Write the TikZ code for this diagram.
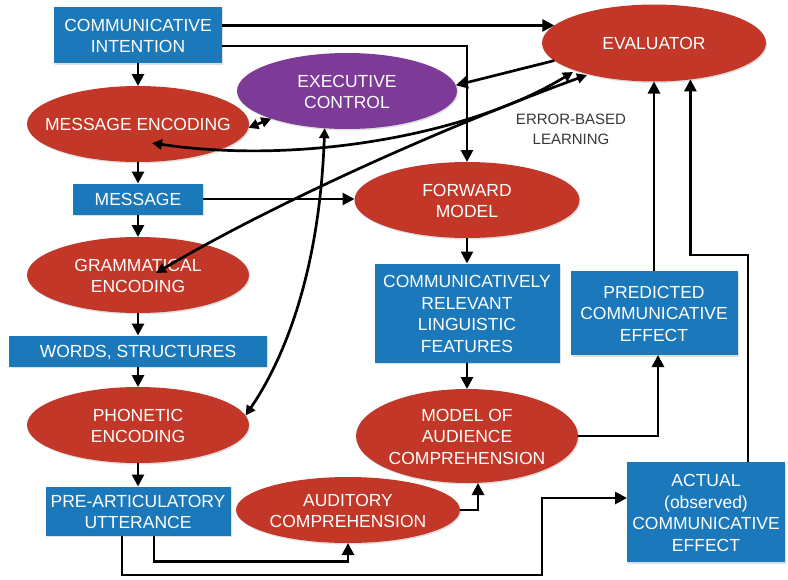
\documentclass[tikz,border=0pt]{standalone}
\usepackage{fontspec}
\setmainfont{Liberation Sans}
\usetikzlibrary{arrows.meta,shapes.geometric,calc,shadows}
\definecolor{boxblue}{RGB}{27,120,186}
\definecolor{ovred}{RGB}{194,55,39}
\definecolor{ovpurple}{RGB}{125,58,150}
\definecolor{lbltext}{RGB}{55,55,55}
\newcommand{\nlbl}[1]{\makebox[0pt][c]{\raisebox{-2.5pt}[\height][\depth]{\begin{tabular}{@{}c@{}}#1\end{tabular}}}}
\tikzset{
  base/.style={inner sep=0pt, outer sep=0pt, text=white, font=\fontsize{17.5}{21.5}\selectfont,
    drop shadow={opacity=0.25, shadow xshift=1pt, shadow yshift=-1.5pt}},
  blbox/.style={base, rectangle, fill=boxblue},
  rdoval/.style={base, ellipse, fill=ovred},
  ppoval/.style={base, ellipse, fill=ovpurple},
  arr/.style={line width=2.7pt, -{Triangle[length=12pt,width=12pt]}},
  dbl/.style={line width=2.7pt, {Triangle[length=10pt,width=10pt]}-{Triangle[length=10pt,width=10pt]}},
  notetext/.style={inner sep=0pt, text=lbltext, font=\fontsize{15}{19.5}\selectfont}
}
\begin{document}
\begin{tikzpicture}[x=1pt,y=-1pt]
\useasboundingbox (0,0) rectangle (788,579);
% nodes
\node[blbox, minimum width=168pt, minimum height=56pt] (ci) at (138,35) {\nlbl{COMMUNICATIVE\\INTENTION}};
\node[ppoval, minimum width=220pt, minimum height=76pt] (ec) at (347,91) {\nlbl{EXECUTIVE\\CONTROL}};
\node[rdoval, minimum width=222pt, minimum height=76pt] (me) at (138,124) {\nlbl{MESSAGE ENCODING}};
\node[rdoval, minimum width=224pt, minimum height=77pt] (ev) at (654,43) {\nlbl{EVALUATOR}};
\node[blbox, minimum width=130pt, minimum height=31pt] (msg) at (138,199) {\nlbl{MESSAGE}};
\node[rdoval, minimum width=225pt, minimum height=76pt] (fm) at (467,200) {\nlbl{FORWARD\\MODEL}};
\node[rdoval, minimum width=222pt, minimum height=76pt] (ge) at (138,275) {\nlbl{GRAMMATICAL\\ENCODING}};
\node[blbox, minimum width=258pt, minimum height=31pt] (ws) at (138,351) {\nlbl{WORDS, STRUCTURES}};
\node[blbox, minimum width=185pt, minimum height=99pt] (crlf) at (467,313) {\nlbl{COMMUNICATIVELY\\RELEVANT\\LINGUISTIC\\FEATURES}};
\node[blbox, minimum width=167pt, minimum height=84pt] (pce) at (654,313) {\nlbl{PREDICTED\\COMMUNICATIVE\\EFFECT}};
\node[rdoval, minimum width=222pt, minimum height=76pt] (pe) at (138,425) {\nlbl{PHONETIC\\ENCODING}};
\node[rdoval, minimum width=224pt, minimum height=66pt] (ac) at (348,510) {\nlbl{AUDITORY\\COMPREHENSION}};
\node[rdoval, minimum width=222pt, minimum height=94pt] (mac) at (467,436) {\nlbl{MODEL OF\\AUDIENCE\\COMPREHENSION}};
\node[blbox, minimum width=185pt, minimum height=49pt] (pau) at (138,511) {\nlbl{PRE-ARTICULATORY\\UTTERANCE}};
\node[blbox, minimum width=158pt, minimum height=100pt] (ace) at (706,512) {\nlbl{ACTUAL\\(observed)\\COMMUNICATIVE\\EFFECT}};
\node[notetext] (ebl) at (571,128) {\nlbl{ERROR-BASED\\LEARNING}};
% helper coordinates
\coordinate (bend) at (ev.-45 |- 0,255);
\coordinate (jog) at (542,498);
% connectors: left column
\draw[arr] (ci.south) -- (me.north);
\draw[arr] (me.south) -- (msg.north);
\draw[arr] (msg.south) -- (ge.north);
\draw[arr] (ge.south) -- (ws.north);
\draw[arr] (ws.south) -- (pe.north);
\draw[arr] (pe.south) -- (pau.north);
% communicative intention outputs
\draw[arr] (ci.east |- ev.170) -- (ev.170);
\draw[arr] ($(ci.east)+(0,11)$) -| (fm.north);
% executive control links
\draw[dbl] (me.-2) -- (ec.200);
\draw[arr] (ev.190) -- (ec.3);
\draw[dbl] (ec.239) .. controls (320,260) and (290,350) .. (pe.5);
% error-based learning links
\draw[dbl] ($(me)+(14,19)$) .. controls (300,165) and (470,135) .. ($(ev)+(-81,29)$);
\draw[dbl] ($(ge)+(18,-2)$) .. controls (280,200) and (450,125) .. ($(ev)+(-67,32)$);
% forward model chain
\draw[arr] (msg.east) -- (msg.east -| fm.west);
\draw[arr] (fm.south) -- (crlf.north);
\draw[arr] (crlf.south) -- (mac.north);
\draw[arr] (mac.east) -| ($(pce.south)+(4,0)$);
\draw[arr] (pce.north) -- (pce.north |- ev.south);
\draw[arr] ($(ace.north)+(42,0)$) |- (bend) -- (ev.-45);
% utterance outputs
\draw[arr] ($(pau.south)+(16,0)$) -- ++(0,26) -| (ac.south);
\draw[arr] ($(pau.south)+(-16,0)$) |- (jog |- 0,575) -- (jog) -- (jog -| ace.west);
\draw[arr] (ac.east) -| ($(mac.south)+(11,0)$);
\end{tikzpicture}
\end{document}
